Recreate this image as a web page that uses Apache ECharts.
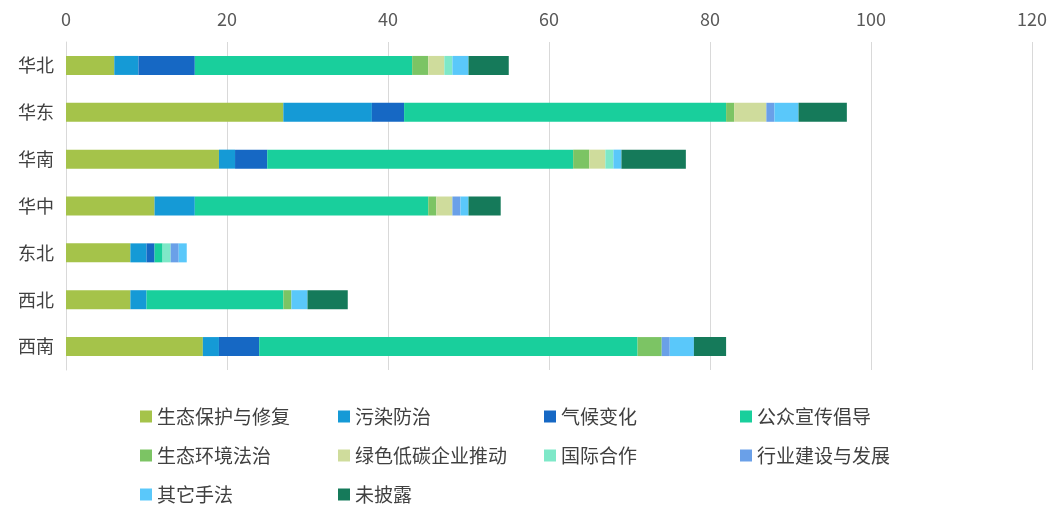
<!DOCTYPE html>
<html><head><meta charset="utf-8">
<script src="https://cdn.jsdelivr.net/npm/echarts@6/dist/echarts.min.js"></script>
<style>html,body{margin:0;background:#fff}#c{width:1056px;height:511px}</style>
</head><body><div id="c"></div>
<script>
const regions = ['华北', '华东', '华南', '华中', '东北', '西北', '西南']
const seriesNames = ['生态保护与修复', '污染防治', '气候变化', '公众宣传倡导', '生态环境法治', '绿色低碳企业推动', '国际合作', '行业建设与发展', '其它手法', '未披露']
const colors = ['#a5c34a', '#159ad6', '#1668c4', '#19cf9c', '#7cc464', '#cfdc9c', '#7ee8c8', '#6aa0e8', '#5ac8fa', '#157a5a']
// values per series, in region order
const ecoProtect = [6, 27, 19, 11, 8, 8, 17]
const pollution = [3, 11, 2, 5, 2, 2, 2]
const climate = [7, 4, 4, 0, 1, 0, 5]
const publicAdv = [27, 40, 38, 29, 1, 17, 47]
const lawRule = [2, 1, 2, 1, 0, 1, 3]
const greenBiz = [2, 4, 2, 2, 0, 0, 0]
const intlCoop = [1, 0, 1, 0, 1, 0, 0]
const industry = [0, 1, 0, 1, 1, 0, 1]
const otherWay = [2, 3, 1, 1, 1, 2, 3]
const undisclosed = [5, 6, 8, 4, 0, 5, 4]
const values = [ecoProtect, pollution, climate, publicAdv, lawRule, greenBiz, intlCoop, industry, otherWay, undisclosed]

const chart = echarts.init(document.getElementById('c'))
const font = '"Noto Sans CJK SC", sans-serif'
const cols = [[0, 4, 8], [1, 5, 9], [2, 6], [3, 7]]
const colX = [135, 333, 539, 735]
chart.setOption({
  textStyle: { fontFamily: font },
  grid: { left: 66, right: 24, top: 42, bottom: 141 },
  xAxis: {
    type: 'value', position: 'top', min: 0, max: 120, interval: 20,
    axisLine: { show: false }, axisTick: { show: false },
    axisLabel: { color: '#595959', fontSize: 18, margin: 14 },
    splitLine: { lineStyle: { color: '#d9d9d9' } }
  },
  yAxis: {
    type: 'category', inverse: true, data: regions,
    axisLine: { lineStyle: { color: '#d9d9d9' } }, axisTick: { show: false },
    axisLabel: { color: '#404040', fontSize: 18, margin: 12 }
  },
  legend: cols.map((c, i) => ({
    orient: 'vertical', left: colX[i], top: 402, itemGap: 20,
    itemWidth: 12, itemHeight: 12, icon: 'rect',
    textStyle: { color: '#404040', fontSize: 19 },
    data: c.map(k => seriesNames[k])
  })),
  series: seriesNames.map((n, i) => ({
    name: n, type: 'bar', stack: 'all', barWidth: 19,
    itemStyle: { color: colors[i] }, data: values[i]
  }))
})
</script></body></html>
